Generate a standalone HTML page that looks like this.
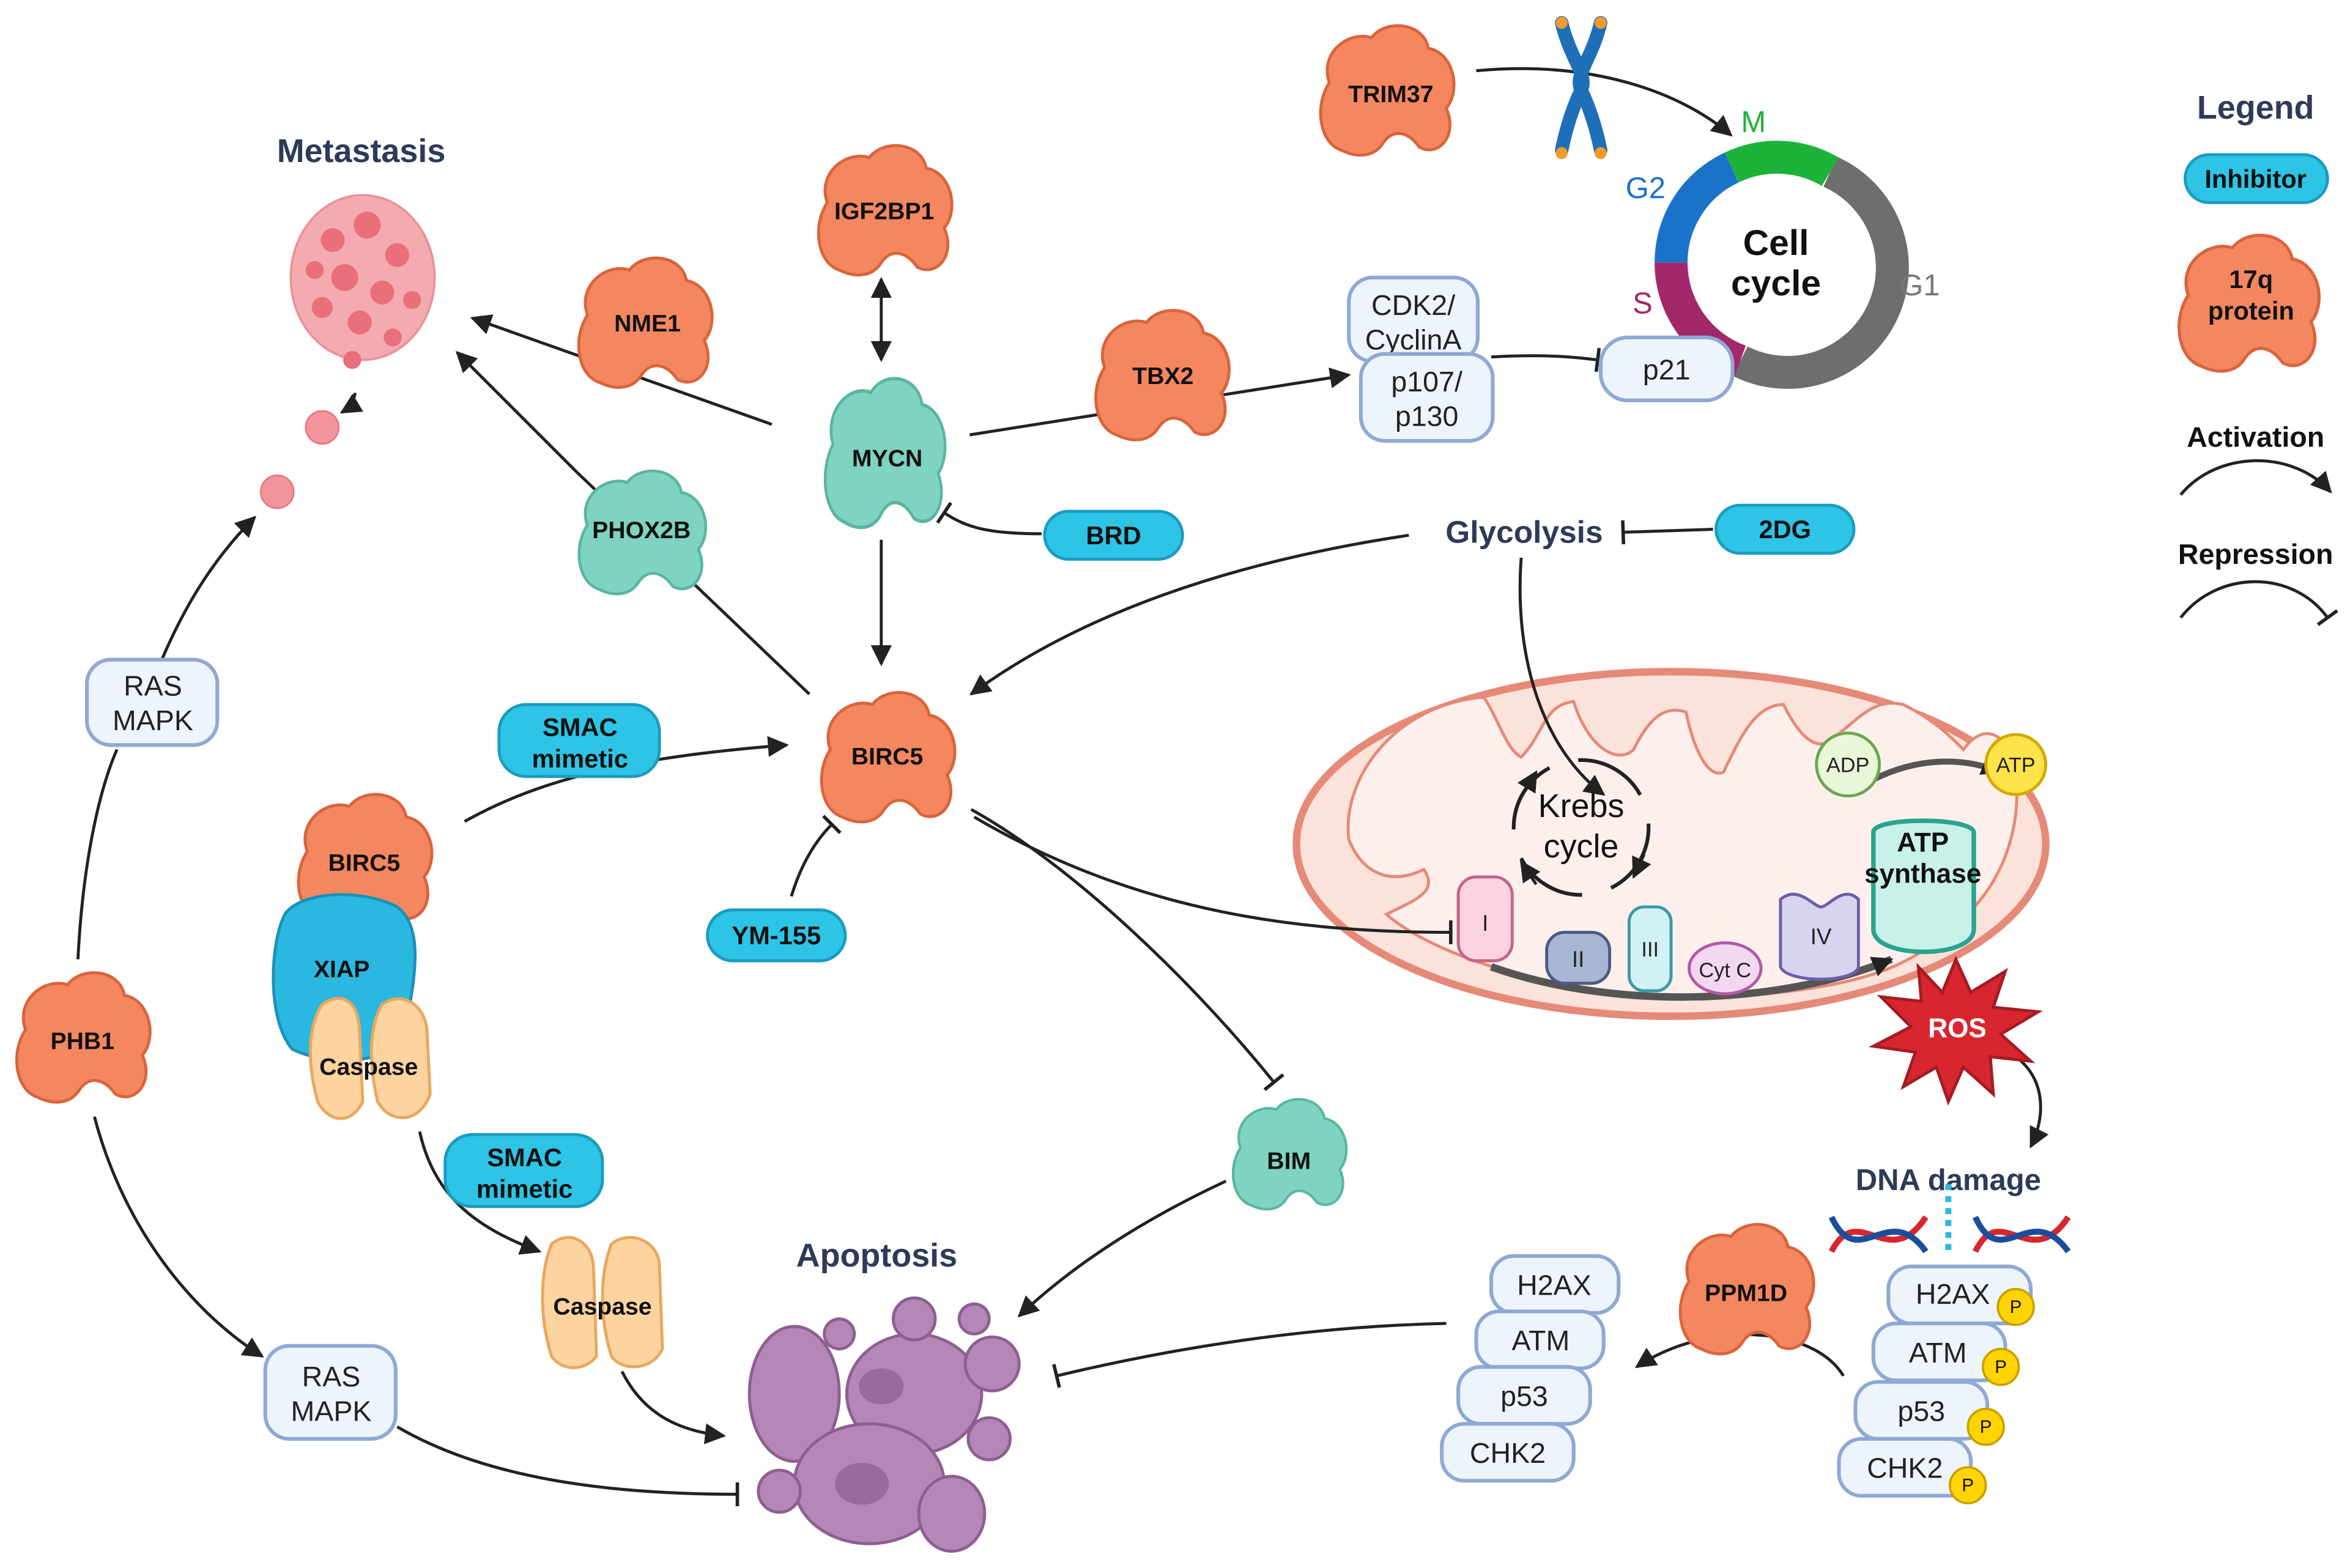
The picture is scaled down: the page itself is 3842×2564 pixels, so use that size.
<!DOCTYPE html>
<html><head><meta charset="utf-8">
<style>
html,body{margin:0;padding:0;background:#fff;}
svg{display:block;}
text{font-family:"Liberation Sans",sans-serif;}
.pl{font-weight:bold;font-size:16px;fill:#111;text-anchor:middle;}
.bx{fill:#eef4fc;stroke:#8fa9d6;stroke-width:2.5;}
.bt{font-size:19px;fill:#222;text-anchor:middle;}
.pill{fill:#2ec4e6;stroke:#1a9cc0;stroke-width:2;}
.pt{font-weight:bold;font-size:17px;fill:#111;text-anchor:middle;}
.ln{fill:none;stroke:#222;stroke-width:2;}
.hd{font-weight:bold;font-size:22px;fill:#2e3a57;text-anchor:middle;}
</style></head><body>
<svg width="3842" height="2564" viewBox="0 0 1568 1046" xmlns="http://www.w3.org/2000/svg">
<defs>
<marker id="ar" viewBox="0 0 10 10" refX="9" refY="5" markerWidth="14" markerHeight="14" markerUnits="userSpaceOnUse" orient="auto-start-reverse"><path d="M0,0 L10,5 L0,10 Z" fill="#222"/></marker>
<marker id="rp" viewBox="0 -7 2 14" refX="1" refY="0" markerWidth="3" markerHeight="16" markerUnits="userSpaceOnUse" orient="auto"><path d="M1,-7 L1,7" stroke="#222" stroke-width="2"/></marker>
<path id="blob" d="M-30,40 C-45,35 -48,10 -38,-5 C-45,-25 -25,-40 -10,-35 C0,-48 25,-45 28,-28 C45,-25 50,0 40,12 C48,30 35,45 22,38 C15,28 5,25 -2,35 C-8,45 -20,45 -30,40 Z"/>
</defs>
<rect width="1568" height="1046" fill="#fff"/>

<!-- mitochondrion (behind connectors) -->
<ellipse cx="1115" cy="563" rx="250" ry="115" fill="#fbe2da" stroke="#e58a78" stroke-width="5"/>
<path d="M900,560 C895,520 930,470 990,465 C1000,480 1005,500 1015,505 C1030,490 1030,470 1050,468 C1060,500 1080,510 1090,500 C1100,480 1110,470 1125,475 C1130,500 1140,520 1150,515 C1160,495 1170,470 1190,470 C1200,490 1210,500 1220,495 C1240,480 1250,465 1270,470 C1290,480 1300,490 1310,500 C1325,480 1340,490 1345,515 C1350,560 1330,600 1300,620 C1280,640 1250,660 1150,665 C1050,668 960,640 925,610 C945,600 960,595 950,580 C930,590 910,585 900,560 Z" fill="#fdf0ec" stroke="#e58a78" stroke-width="2"/>

<!-- connectors -->
<path class="ln" d="M985,47 C1060,40 1120,60 1155,90" marker-end="url(#ar)"/>
<path class="ln" d="M995,238 C1030,236 1050,238 1066,240" marker-end="url(#rp)"/>
<path class="ln" d="M588,186 L588,240" marker-start="url(#ar)" marker-end="url(#ar)"/>
<path class="ln" d="M515,283 L315,212" marker-end="url(#ar)"/>
<path class="ln" d="M540,463 L385,315 L305,235" marker-end="url(#ar)"/>
<path class="ln" d="M695,356 C660,356 645,352 630,342" marker-end="url(#rp)"/>
<path class="ln" d="M647,290 L900,250" marker-end="url(#ar)"/>
<path class="ln" d="M588,360 L588,443" marker-end="url(#ar)"/>
<path class="ln" d="M1143,353 L1083,355" marker-end="url(#rp)"/>
<path class="ln" d="M940,357 C820,375 720,410 648,463" marker-end="url(#ar)"/>
<path class="ln" d="M1015,372 C1010,440 1030,500 1070,530" marker-end="url(#ar)"/>
<path class="ln" d="M310,548 C360,520 420,505 525,497" marker-end="url(#ar)"/>
<path class="ln" d="M528,598 C535,575 545,560 555,550" marker-end="url(#rp)"/>
<path class="ln" d="M280,755 C290,800 320,820 360,835" marker-end="url(#ar)"/>
<path class="ln" d="M415,915 C430,945 455,955 483,958" marker-end="url(#ar)"/>
<path class="ln" d="M648,540 C720,580 800,660 850,722" marker-end="url(#rp)"/>
<path class="ln" d="M650,545 C760,610 870,622 968,622" marker-end="url(#rp)"/>
<path class="ln" d="M818,788 C760,815 715,845 680,878" marker-end="url(#ar)"/>
<path class="ln" d="M1345,705 C1365,720 1365,745 1355,765" marker-end="url(#ar)"/>
<path class="ln" d="M1230,918 C1210,885 1140,880 1092,912" marker-end="url(#ar)"/>
<path class="ln" d="M965,883 C870,885 780,900 705,918" marker-end="url(#rp)"/>
<path class="ln" d="M52,640 C55,580 65,530 78,500"/>
<path class="ln" d="M108,440 C125,400 145,370 170,345" marker-end="url(#ar)"/>
<path class="ln" d="M63,745 C80,810 120,870 175,905" marker-end="url(#ar)"/>
<path class="ln" d="M265,952 C330,990 420,997 492,997" marker-end="url(#rp)"/>
<path class="ln" d="M237,262 C236,268 233,272 228,275" marker-end="url(#ar)"/>

<!-- chromosome -->
<g>
<path d="M1042,15 C1048,40 1060,50 1055,60 C1050,70 1045,85 1042,100" stroke="#1f6fb8" stroke-width="9" fill="none" stroke-linecap="round"/>
<path d="M1068,15 C1062,40 1050,50 1055,60 C1060,70 1065,85 1068,100" stroke="#1f6fb8" stroke-width="9" fill="none" stroke-linecap="round"/>
<circle cx="1042" cy="15" r="4" fill="#f29a2e"/><circle cx="1068" cy="15" r="4" fill="#f29a2e"/>
<circle cx="1042" cy="102" r="4" fill="#f29a2e"/><circle cx="1068" cy="102" r="4" fill="#f29a2e"/>
</g>

<!-- cell cycle ring -->
<g fill="none" stroke-width="22">
<path d="M1221.2,114.4 A70,70 0 1 1 1161.1,240.8" stroke="#6e6e6e"/>
<path d="M1161.1,240.8 A70,70 0 0 1 1115,175" stroke="#a3286b"/>
<path d="M1115,175 A70,70 0 0 1 1155.4,111.6" stroke="#1a73c9"/>
<path d="M1155.4,111.6 A70,70 0 0 1 1221.2,114.4" stroke="#1db33b"/>
</g>
<text x="1185" y="170" font-size="24" font-weight="bold" text-anchor="middle" fill="#111">Cell</text>
<text x="1185" y="197" font-size="24" font-weight="bold" text-anchor="middle" fill="#111">cycle</text>
<text x="1170" y="88" font-size="20" fill="#1db33b" text-anchor="middle">M</text>
<text x="1098" y="132" font-size="20" fill="#1a73c9" text-anchor="middle">G2</text>
<text x="1096" y="209" font-size="20" fill="#a3286b" text-anchor="middle">S</text>
<text x="1281" y="197" font-size="20" fill="#777" text-anchor="middle">G1</text>

<!-- boxes top -->
<rect class="bx" x="900" y="185" width="86" height="56" rx="16"/>
<text class="bt" x="943" y="210">CDK2/</text><text class="bt" x="943" y="233">CyclinA</text>
<rect class="bx" x="908" y="236" width="88" height="58" rx="16"/>
<text class="bt" x="952" y="261">p107/</text><text class="bt" x="952" y="284">p130</text>
<rect class="bx" x="1068" y="225" width="88" height="42" rx="18"/>
<text class="bt" x="1112" y="253">p21</text>

<!-- Legend -->
<text x="1505" y="79" font-size="22" font-weight="bold" fill="#2e3a57" text-anchor="middle">Legend</text>
<rect class="pill" x="1458" y="103" width="95" height="32" rx="16"/>
<text class="pt" x="1505" y="125">Inhibitor</text>
<use href="#blob" transform="translate(1500,202) scale(1.05)" fill="#f4875f" stroke="#d9643c" stroke-width="2"/>
<text class="pt" x="1502" y="192">17q</text><text class="pt" x="1502" y="213">protein</text>
<text x="1505" y="298" font-size="19" font-weight="bold" fill="#111" text-anchor="middle">Activation</text>
<path class="ln" d="M1455,330 C1480,300 1530,300 1555,328" marker-end="url(#ar)"/>
<text x="1505" y="376" font-size="19" font-weight="bold" fill="#111" text-anchor="middle">Repression</text>
<path class="ln" d="M1455,412 C1480,380 1530,380 1553,412" marker-end="url(#rp)"/>

<!-- Metastasis -->
<text class="hd" x="241" y="108">Metastasis</text>
<g fill="#f2a3a8" stroke="#e8868c" stroke-width="1.5" opacity="0.9">
<ellipse cx="242" cy="185" rx="48" ry="55"/>
</g>
<g fill="#e9707a">
<circle cx="222" cy="160" r="8"/><circle cx="245" cy="150" r="9"/><circle cx="265" cy="170" r="8"/><circle cx="230" cy="185" r="9"/><circle cx="255" cy="195" r="8"/><circle cx="215" cy="205" r="7"/><circle cx="240" cy="215" r="8"/><circle cx="262" cy="225" r="6"/><circle cx="235" cy="240" r="6"/><circle cx="210" cy="180" r="6"/><circle cx="275" cy="200" r="6"/>
</g>
<circle cx="215" cy="285" r="11" fill="#f2949b" stroke="#e9707a"/>
<circle cx="185" cy="328" r="11" fill="#f2949b" stroke="#e9707a"/>

<!-- orange proteins -->
<g fill="#f4875f" stroke="#d9643c" stroke-width="2">
<use href="#blob" transform="translate(925,60)"/>
<use href="#blob" transform="translate(590,140)"/>
<use href="#blob" transform="translate(430,215)"/>
<use href="#blob" transform="translate(775,250)"/>
<use href="#blob" transform="translate(592,505)"/>
<use href="#blob" transform="translate(243,573)"/>
<use href="#blob" transform="translate(55,692)"/>
<use href="#blob" transform="translate(1165,860)"/>
</g>
<!-- teal proteins -->
<g fill="#7fd3c1" stroke="#5ab5a3" stroke-width="2">
<use href="#blob" transform="translate(590,302) scale(0.9,1.15)"/>
<use href="#blob" transform="translate(428,355) scale(0.95,0.95)"/>
<use href="#blob" transform="translate(860,770) scale(0.85,0.85)"/>
</g>
<!-- XIAP -->
<path d="M190,610 C200,595 240,592 265,605 C285,620 275,660 270,690 C260,710 220,712 195,700 C178,680 180,630 190,610 Z" fill="#2ab8e0" stroke="#1a92b8" stroke-width="2"/>
<!-- caspases -->
<g fill="#fdd3a0" stroke="#e8a85e" stroke-width="2">
<path d="M215,670 C230,660 240,670 240,690 L242,735 C235,750 220,750 212,735 C205,710 205,685 215,670 Z"/>
<path d="M255,670 C270,660 285,672 285,690 L287,730 C280,750 260,750 252,735 C246,710 246,685 255,670 Z"/>
<path d="M368,830 C380,820 395,828 396,845 L398,905 C390,915 375,915 368,905 C360,880 360,850 368,830 Z"/>
<path d="M408,830 C420,820 440,828 440,845 L442,900 C435,915 415,915 408,905 C400,880 400,850 408,830 Z"/>
</g>
<text class="pl" x="928" y="68">TRIM37</text>
<text class="pl" x="590" y="146">IGF2BP1</text>
<text class="pl" x="432" y="221">NME1</text>
<text class="pl" x="776" y="256">TBX2</text>
<text class="pl" x="592" y="311">MYCN</text>
<text class="pl" x="428" y="359">PHOX2B</text>
<text class="pl" x="592" y="510">BIRC5</text>
<text class="pl" x="243" y="581">BIRC5</text>
<text class="pl" x="228" y="652">XIAP</text>
<text class="pl" x="246" y="717">Caspase</text>
<text class="pl" x="402" y="877">Caspase</text>
<text class="pl" x="860" y="780">BIM</text>
<text class="pl" x="55" y="700">PHB1</text>
<text class="pl" x="1165" y="868">PPM1D</text>

<!-- pills -->
<rect class="pill" x="697" y="341" width="92" height="32" rx="16"/><text class="pt" x="743" y="363">BRD</text>
<rect class="pill" x="1145" y="337" width="92" height="32" rx="16"/><text class="pt" x="1191" y="359">2DG</text>
<rect class="pill" x="333" y="470" width="107" height="48" rx="18"/><text class="pt" x="387" y="491">SMAC</text><text class="pt" x="387" y="512">mimetic</text>
<rect class="pill" x="297" y="757" width="105" height="48" rx="18"/><text class="pt" x="350" y="778">SMAC</text><text class="pt" x="350" y="799">mimetic</text>
<rect class="pill" x="472" y="607" width="92" height="34" rx="17"/><text class="pt" x="518" y="630">YM-155</text>

<text x="1017" y="362" font-size="21" font-weight="bold" fill="#2e3a57" text-anchor="middle">Glycolysis</text>

<!-- mitochondrion contents -->
<path d="M995,645 C1080,675 1190,670 1262,640" fill="none" stroke="#555" stroke-width="5" marker-end="url(#ar)"/>
<path d="M1250,520 C1280,505 1310,505 1335,515" fill="none" stroke="#555" stroke-width="4" marker-end="url(#ar)"/>
<circle cx="1055" cy="552" r="45" fill="none" stroke="#222" stroke-width="2.5" stroke-dasharray="50 20"/>
<text x="1055" y="545" font-size="22" fill="#111" text-anchor="middle">Krebs</text>
<text x="1055" y="572" font-size="22" fill="#111" text-anchor="middle">cycle</text>
<path d="M1013,535 L1025,515" class="ln" marker-end="url(#ar)"/>
<path d="M1097,570 L1090,585" class="ln" marker-end="url(#ar)"/>
<path d="M1025,590 L1015,575" class="ln" marker-end="url(#ar)"/>
<rect x="973" y="585" width="36" height="56" rx="12" fill="#f9d3e0" stroke="#c6648a" stroke-width="2"/><text x="991" y="621" font-size="15" text-anchor="middle" fill="#222">I</text>
<rect x="1032" y="622" width="42" height="34" rx="12" fill="#a9b6d3" stroke="#4a5a85" stroke-width="2"/><text x="1053" y="645" font-size="15" text-anchor="middle" fill="#222">II</text>
<rect x="1087" y="605" width="28" height="56" rx="10" fill="#d2f1f4" stroke="#3a9aa8" stroke-width="2"/><text x="1101" y="638" font-size="14" text-anchor="middle" fill="#222">III</text>
<ellipse cx="1151" cy="646" rx="24" ry="17" fill="#f4d7f0" stroke="#b05aa5" stroke-width="2"/><text x="1151" y="652" font-size="14" text-anchor="middle" fill="#222">Cyt C</text>
<path d="M1188,600 C1200,590 1210,605 1215,605 C1220,605 1230,590 1240,600 L1240,645 C1238,656 1192,656 1188,645 Z" fill="#d8d4f0" stroke="#6a5fa8" stroke-width="2"/><text x="1215" y="630" font-size="15" text-anchor="middle" fill="#222">IV</text>
<path d="M1250,555 C1250,545 1315,545 1317,555 L1317,620 C1317,640 1250,640 1250,620 Z" fill="#c8f1ea" stroke="#2aa38f" stroke-width="3"/>
<text x="1283" y="568" font-size="18" font-weight="bold" text-anchor="middle" fill="#111">ATP</text>
<text x="1283" y="589" font-size="18" font-weight="bold" text-anchor="middle" fill="#111">synthase</text>
<circle cx="1233" cy="510" r="21" fill="#eaf6d8" stroke="#6aa84f" stroke-width="2"/><text x="1233" y="515" font-size="14" text-anchor="middle" fill="#222">ADP</text>
<circle cx="1345" cy="510" r="20" fill="#ffe34a" stroke="#d4a800" stroke-width="2"/><text x="1345" y="515" font-size="14" text-anchor="middle" fill="#222">ATP</text>

<!-- ROS -->
<polygon points="1305,640 1315,662 1338,648 1330,672 1360,675 1335,690 1355,708 1328,705 1330,730 1310,712 1300,735 1292,712 1270,725 1278,702 1250,698 1275,685 1255,665 1282,668 1280,645 1296,662" fill="#d7262f" stroke="#a51b22" stroke-width="2"/>
<text x="1306" y="692" font-size="18" font-weight="bold" fill="#fff" text-anchor="middle">ROS</text>

<!-- DNA damage -->
<text x="1300" y="794" font-size="20" font-weight="bold" fill="#2e3a57" text-anchor="middle">DNA damage</text>
<g fill="none" stroke-width="4">
<path d="M1222,835 C1240,800 1260,850 1285,812" stroke="#d7262f"/>
<path d="M1222,812 C1240,850 1260,800 1285,835" stroke="#1a4e9c"/>
<path d="M1318,835 C1335,800 1355,850 1380,812" stroke="#d7262f"/>
<path d="M1318,812 C1335,850 1355,800 1380,835" stroke="#1a4e9c"/>
<path d="M1300,790 L1300,835" stroke="#2ab8e0" stroke-dasharray="4 4"/>
</g>

<!-- right stack -->
<rect class="bx" x="1260" y="845" width="95" height="38" rx="15"/><text class="bt" x="1303" y="870">H2AX</text>
<rect class="bx" x="1250" y="883" width="88" height="38" rx="15"/><text class="bt" x="1293" y="909">ATM</text>
<rect class="bx" x="1238" y="922" width="88" height="38" rx="15"/><text class="bt" x="1282" y="948">p53</text>
<rect class="bx" x="1227" y="960" width="88" height="38" rx="15"/><text class="bt" x="1271" y="986">CHK2</text>
<g fill="#ffd400" stroke="#c9a000" stroke-width="1.5">
<circle cx="1345" cy="872" r="12"/><circle cx="1335" cy="912" r="12"/><circle cx="1325" cy="952" r="12"/><circle cx="1313" cy="991" r="12"/>
</g>
<g font-size="12" text-anchor="middle" fill="#111"><text x="1345" y="876">P</text><text x="1335" y="916">P</text><text x="1325" y="956">P</text><text x="1313" y="995">P</text></g>

<!-- left stack -->
<rect class="bx" x="995" y="838" width="85" height="38" rx="15"/><text class="bt" x="1037" y="864">H2AX</text>
<rect class="bx" x="985" y="875" width="85" height="38" rx="15"/><text class="bt" x="1028" y="901">ATM</text>
<rect class="bx" x="973" y="912" width="88" height="38" rx="15"/><text class="bt" x="1017" y="938">p53</text>
<rect class="bx" x="962" y="950" width="88" height="38" rx="15"/><text class="bt" x="1006" y="976">CHK2</text>

<!-- RAS MAPK -->
<rect class="bx" x="58" y="440" width="87" height="57" rx="16"/><text class="bt" x="102" y="464">RAS</text><text class="bt" x="102" y="487">MAPK</text>
<rect class="bx" x="177" y="898" width="87" height="62" rx="16"/><text class="bt" x="221" y="925">RAS</text><text class="bt" x="221" y="948">MAPK</text>

<!-- Apoptosis -->
<text class="hd" x="585" y="845">Apoptosis</text>
<g fill="#b487b6" stroke="#8d5f90" stroke-width="2">
<ellipse cx="530" cy="930" rx="30" ry="45"/>
<ellipse cx="610" cy="930" rx="45" ry="40"/>
<circle cx="610" cy="880" r="14"/><circle cx="650" cy="880" r="10"/>
<circle cx="662" cy="910" r="18"/><circle cx="560" cy="890" r="10"/>
<ellipse cx="580" cy="990" rx="50" ry="40"/>
<ellipse cx="635" cy="1010" rx="22" ry="25"/>
<circle cx="660" cy="960" r="14"/><circle cx="520" cy="995" r="14"/>
</g>
<g fill="#9a6a9d"><ellipse cx="588" cy="925" rx="15" ry="12"/><ellipse cx="575" cy="990" rx="18" ry="14"/></g>
</svg>
</body></html>
